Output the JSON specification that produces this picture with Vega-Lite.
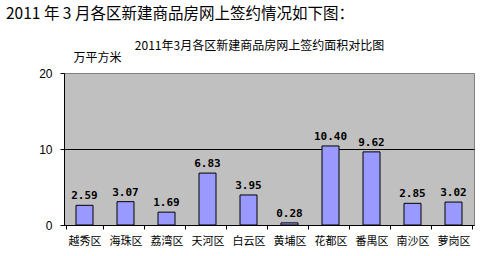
{
  "$schema": "https://vega.github.io/schema/vega-lite/v6.json",
  "width": 410,
  "height": 152,
  "autosize": "none",
  "padding": {"left": 64, "top": 73, "right": 25, "bottom": 31},
  "background": "white",
  "title": {
    "text": "2011 年 3 月各区新建商品房网上签约情况如下图：",
    "anchor": "start",
    "frame": "group",
    "dx": -58,
    "offset": 17,
    "font": "Noto Sans CJK SC",
    "fontSize": 15.5,
    "fontWeight": "normal",
    "color": "black"
  },
  "config": {
    "view": {"fill": "#C0C0C0", "stroke": "#808080"}
  },
  "data": {
    "values": [
      {"district": "越秀区", "area": 2.59},
      {"district": "海珠区", "area": 3.07},
      {"district": "荔湾区", "area": 1.69},
      {"district": "天河区", "area": 6.83},
      {"district": "白云区", "area": 3.95},
      {"district": "黄埔区", "area": 0.28},
      {"district": "花都区", "area": 10.40},
      {"district": "番禺区", "area": 9.62},
      {"district": "南沙区", "area": 2.85},
      {"district": "萝岗区", "area": 3.02}
    ]
  },
  "layer": [
    {
      "mark": {"type": "bar", "fill": "#9999FF", "stroke": "black", "strokeWidth": 1, "width": 17},
      "encoding": {
        "x": {
          "field": "district",
          "type": "nominal",
          "sort": null,
          "axis": {
            "orient": "bottom",
            "title": null,
            "labelAngle": 0,
            "labelFont": "Noto Sans CJK SC",
            "labelFontSize": 11,
            "labelColor": "black",
            "labelPadding": 6,
            "domainColor": "black",
            "tickColor": "black",
            "tickSize": 4,
            "tickBand": "extent"
          }
        },
        "y": {
          "field": "area",
          "type": "quantitative",
          "scale": {"domain": [0, 20]},
          "axis": {
            "values": [0, 10, 20],
            "grid": true,
            "gridColor": {"condition": {"test": "datum.value === 10", "value": "black"}, "value": "#808080"},
            "gridOpacity": 1,
            "domainColor": "black",
            "tickColor": "black",
            "tickSize": 4,
            "labelFont": "Liberation Sans",
            "labelFontSize": 12,
            "labelColor": "black",
            "labelPadding": 8,
            "title": "万平方米",
            "titleAngle": 0,
            "titleX": 9,
            "titleY": -16,
            "titleAlign": "left",
            "titleBaseline": "middle",
            "titleFont": "Noto Sans CJK SC",
            "titleFontSize": 12,
            "titleFontWeight": "normal",
            "titleColor": "black"
          }
        }
      }
    },
    {
      "mark": {"type": "text", "baseline": "alphabetic", "dy": -6, "font": "DejaVu Sans Mono", "fontWeight": "bold", "fontSize": 11, "color": "black"},
      "encoding": {
        "x": {
          "field": "district",
          "type": "nominal",
          "sort": null,
          "axis": {
            "orient": "top",
            "domain": false,
            "ticks": false,
            "labels": false,
            "grid": false,
            "title": "2011年3月各区新建商品房网上签约面积对比图",
            "titleX": 195,
            "titleY": -28,
            "titleAlign": "center",
            "titleBaseline": "middle",
            "titleFont": "Noto Sans CJK SC",
            "titleFontSize": 12,
            "titleFontWeight": "normal",
            "titleColor": "black"
          }
        },
        "y": {"field": "area", "type": "quantitative"},
        "text": {"field": "area", "type": "quantitative", "format": ".2f"}
      }
    }
  ],
  "resolve": {"axis": {"x": "independent"}}
}
